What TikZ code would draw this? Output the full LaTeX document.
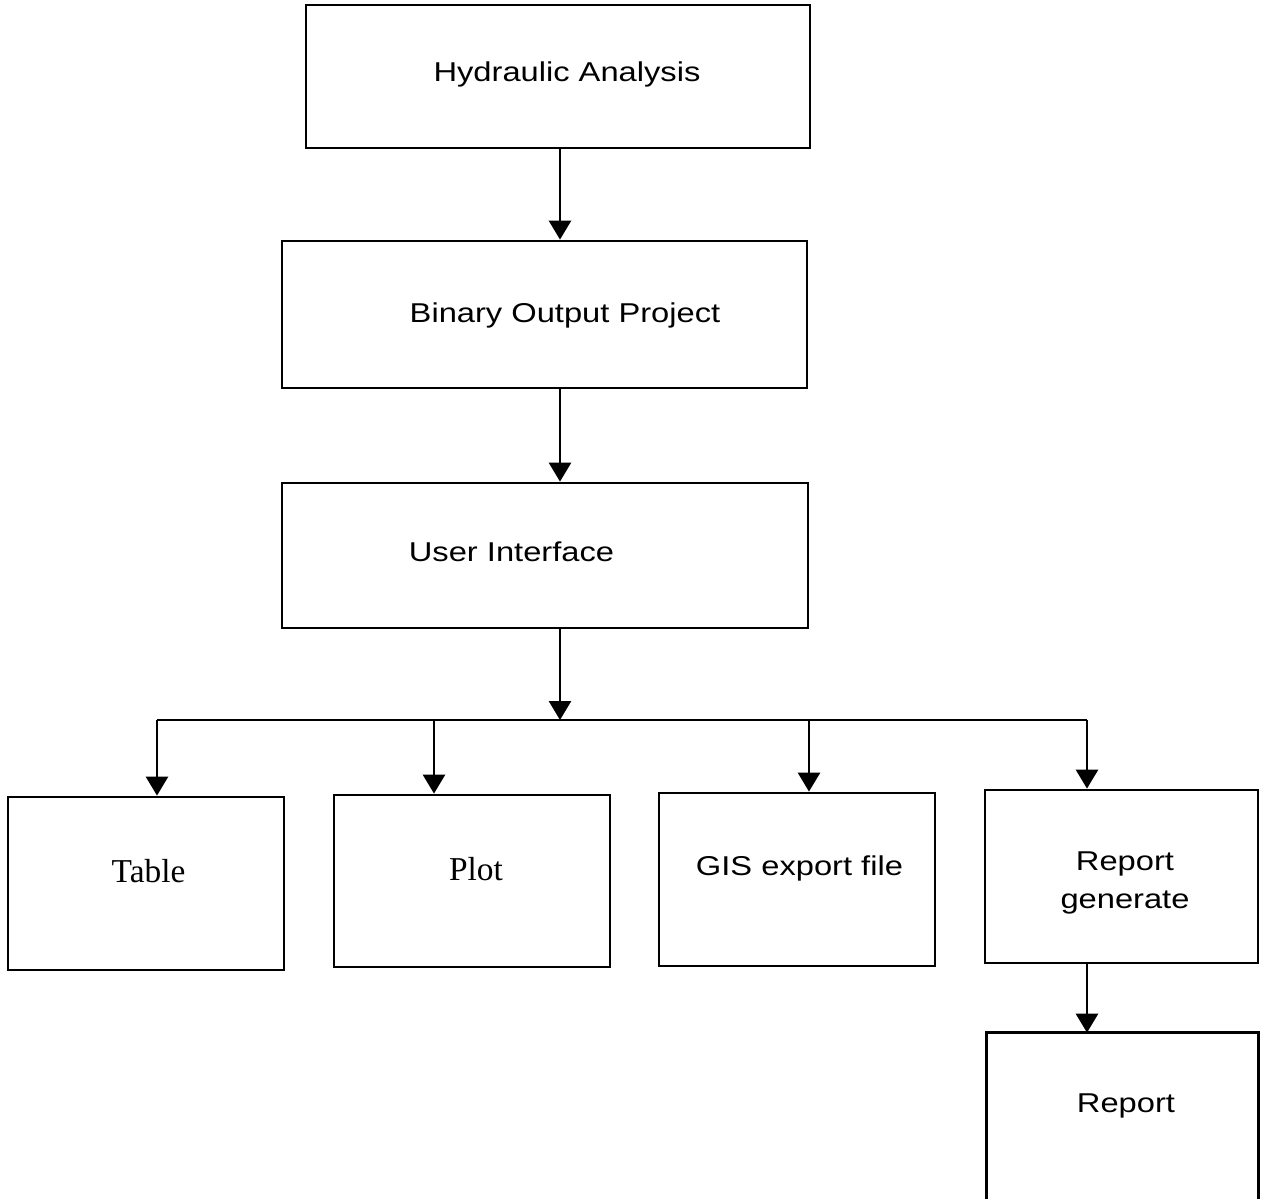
\documentclass[tikz,border=0pt]{standalone}
\usepackage{fontspec}
\setmainfont{Liberation Serif}
\newfontfamily\arialf[FakeStretch=1.2]{Liberation Sans}
\usetikzlibrary{arrows.meta}
\begin{document}
\begin{tikzpicture}[x=0.02cm,y=-0.02cm,
  box/.style={draw,line width=1.6pt,inner sep=0pt},
  sanslbl/.style={anchor=base,align=center,inner sep=0pt,
    font=\arialf\fontsize{15.5}{21.6}\selectfont},
  seriflbl/.style={anchor=base,inner sep=0pt,font=\fontsize{19}{23}\selectfont},
  link/.style={line width=1.6pt},
  arr/.style={link,-{Triangle[length=0.38cm,width=0.44cm]}}]
\useasboundingbox (0,0) rectangle (1261,1199);
\clip (0,0) rectangle (1261,1199);
\fill[white] (0,0) rectangle (1261,1199);

% main chain
\node[box,minimum width=10.08cm,minimum height=2.86cm] (ha) at (558,76.5) {};
\node[box,minimum width=10.5cm,minimum height=2.94cm] (bo) at (544.5,314.5) {};
\node[box,minimum width=10.52cm,minimum height=2.9cm] (ui) at (545,555.5) {};

% outputs
\node[box,minimum width=5.52cm,minimum height=3.46cm] (tb) at (146,883.5) {};
\node[box,minimum width=5.52cm,minimum height=3.44cm] (pl) at (472,881) {};
\node[box,minimum width=5.52cm,minimum height=3.46cm] (gi) at (797,879.5) {};
\node[box,minimum width=5.46cm,minimum height=3.46cm] (rg) at (1121.5,876.5) {};
% last box runs past the lower edge
\node[minimum width=5.42cm,minimum height=3.8cm,inner sep=0pt] (rp) at (1122.5,1128) {};
\draw[link] (rp.south west) -- (rp.north west) -- (rp.north east) -- (rp.south east);

% labels (base anchor of a two-line label sits on its last line)
\node[sanslbl] (tha) at (567,82) {Hydraulic Analysis};
\node[sanslbl] (tbo) at (565,323) {Binary Output Project};
\node[sanslbl] (tui) at (511.5,561) {User Interface};
\node[seriflbl] (ttb) at (148.5,882) {Table};
\node[seriflbl] (tpl) at (476,880) {Plot};
\node[sanslbl] (tgi) at (799.5,875) {GIS export file};
\node[sanslbl] (trg) at (1125,908) {Report\\generate};
\node[sanslbl] (trp) at (1126,1112) {Report};

% connectors
\coordinate (trunk) at (560,720);
\coordinate (d1) at (157,720);
\coordinate (d2) at (434,720);
\coordinate (d3) at (809,720);
\coordinate (d4) at (1087,720);

\draw[arr] (ha.south -| trunk) -- (bo.north -| trunk);
\draw[arr] (bo.south -| trunk) -- (ui.north -| trunk);
\draw[arr] (ui.south -| trunk) -- (trunk);
\draw[link] (d1) -- (d4);
\draw[arr] (d1) -- (d1 |- tb.north);
\draw[arr] (d2) -- (d2 |- pl.north);
\draw[arr] (d3) -- (d3 |- gi.north);
\draw[arr] (d4) -- (d4 |- rg.north);
\draw[arr] (rg.south -| d4) -- (rp.north -| d4);
\end{tikzpicture}
\end{document}
